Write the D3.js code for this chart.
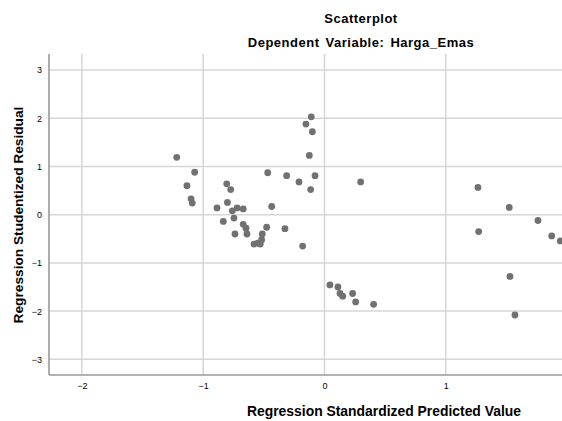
<!DOCTYPE html>
<html>
<head>
<meta charset="utf-8">
<script src="https://cdn.jsdelivr.net/npm/d3@7"></script>
<style>
  body { margin: 0; background: #fff; }
  text { font-family: "Liberation Sans", Arial, sans-serif; fill: #000; }
</style>
</head>
<body>
<svg id="chart" width="562" height="421"></svg>
<script>
// predicted (standardized) values
const predicted = [
  -1.218, -1.07, -1.134, -1.10, -1.09, -0.806, -0.773, -0.80, -0.886, -0.76,
  -0.72, -0.67, -0.746, -0.834, -0.67, -0.647, -0.738, -0.639, -0.581, -0.551,
  -0.529, -0.518, -0.513, -0.477, -0.326, -0.18, -0.468, -0.312, -0.435, -0.21,
  -0.078, -0.114, -0.109, -0.153, -0.10, -0.125, 0.298,
  0.045, 0.111, 0.128, 0.15, 0.232, 0.257, 0.405,
  1.265, 1.523, 1.76, 1.271, 1.873, 1.944, 1.529, 1.57
];
// studentized residuals
const residual = [
  1.19, 0.88, 0.60, 0.33, 0.24, 0.64, 0.52, 0.255, 0.14, 0.08,
  0.14, 0.12, -0.07, -0.14, -0.20, -0.28, -0.40, -0.40, -0.61, -0.59,
  -0.61, -0.52, -0.40, -0.26, -0.29, -0.65, 0.87, 0.81, 0.17, 0.68,
  0.81, 0.52, 2.03, 1.88, 1.72, 1.23, 0.68,
  -1.456, -1.50, -1.635, -1.69, -1.635, -1.81, -1.86,
  0.565, 0.15, -0.12, -0.35, -0.44, -0.545, -1.28, -2.08
];
const xTicks = [-2, -1, 0, 1];
const yTicks = [-3, -2, -1, 0, 1, 2, 3];
const titleLines = ['Scatterplot', 'Dependent Variable: Harga_Emas'];
const xTitle = 'Regression Standardized Predicted Value';
const yTitle = 'Regression Studentized Residual';

const points = predicted.map((p, i) => ({ x: p, y: residual[i] }));

const svg = d3.select('#chart');
const margin = { left: 49, top: 54, right: 0, bottom: 46 };
const width = 562 - margin.left - margin.right;
const height = 421 - margin.top - margin.bottom;

const x = d3.scaleLinear().domain([-2.271, 1.958]).range([0, width]);
const y = d3.scaleLinear().domain([-3.325, 3.333]).range([height, 0]);

const g = svg.append('g')
  .attr('transform', `translate(${margin.left},${margin.top})`);

svg.append('defs').append('clipPath').attr('id', 'plotClip')
  .append('rect').attr('x', 0).attr('y', 0).attr('width', width).attr('height', height);

// grid
g.append('g').selectAll('line.hgrid')
  .data(yTicks).enter().append('line')
  .attr('x1', 0).attr('x2', width)
  .attr('y1', d => y(d)).attr('y2', d => y(d))
  .attr('stroke', '#d6d6d6').attr('stroke-width', 1.5);

g.append('g').selectAll('line.vgrid')
  .data(xTicks).enter().append('line')
  .attr('y1', 0).attr('y2', height)
  .attr('x1', d => x(d)).attr('x2', d => x(d))
  .attr('stroke', '#d6d6d6').attr('stroke-width', 1.5);

// axes (labels only, no tick marks)
const xAxis = g.append('g')
  .attr('transform', `translate(0,${height})`)
  .call(d3.axisBottom(x).tickValues(xTicks).tickSize(0).tickPadding(8).tickFormat(d3.format('d')));
const yAxis = g.append('g')
  .call(d3.axisLeft(y).tickValues(yTicks).tickSize(0).tickPadding(7).tickFormat(d3.format('d')));

[xAxis, yAxis].forEach(a => {
  a.select('.domain').remove();
  a.selectAll('text')
    .style('font-family', '"Liberation Sans", Arial, sans-serif')
    .style('font-size', '9px')
    .attr('fill', '#000');
});

// axis lines
g.append('line').attr('x1', 0).attr('x2', 0).attr('y1', 0).attr('y2', height)
  .attr('stroke', '#999').attr('stroke-width', 1.6);
g.append('line').attr('x1', 0).attr('x2', width).attr('y1', height).attr('y2', height)
  .attr('stroke', '#999').attr('stroke-width', 1.6);

// points
g.append('g').attr('clip-path', 'url(#plotClip)')
  .selectAll('circle')
  .data(points).enter().append('circle')
  .attr('cx', d => x(d.x))
  .attr('cy', d => y(d.y))
  .attr('r', 3.4)
  .attr('fill', '#717171');

// titles
svg.selectAll('text.title')
  .data(titleLines).enter().append('text')
  .attr('class', 'title')
  .attr('x', 361)
  .attr('y', (d, i) => 23 + i * 24)
  .attr('text-anchor', 'middle')
  .style('font-size', '13px')
  .style('letter-spacing', '0.5px')
  .style('word-spacing', '2px')
  .style('font-weight', 'bold')
  .text(d => d);

svg.append('text')
  .attr('x', 384)
  .attr('y', 416)
  .attr('text-anchor', 'middle')
  .style('font-size', '13.9px')
  .style('font-weight', 'bold')
  .text(xTitle);

svg.append('text')
  .attr('transform', 'translate(22.5,215) rotate(-90)')
  .attr('text-anchor', 'middle')
  .style('font-size', '13.7px')
  .style('font-weight', 'bold')
  .text(yTitle);
</script>
</body>
</html>
